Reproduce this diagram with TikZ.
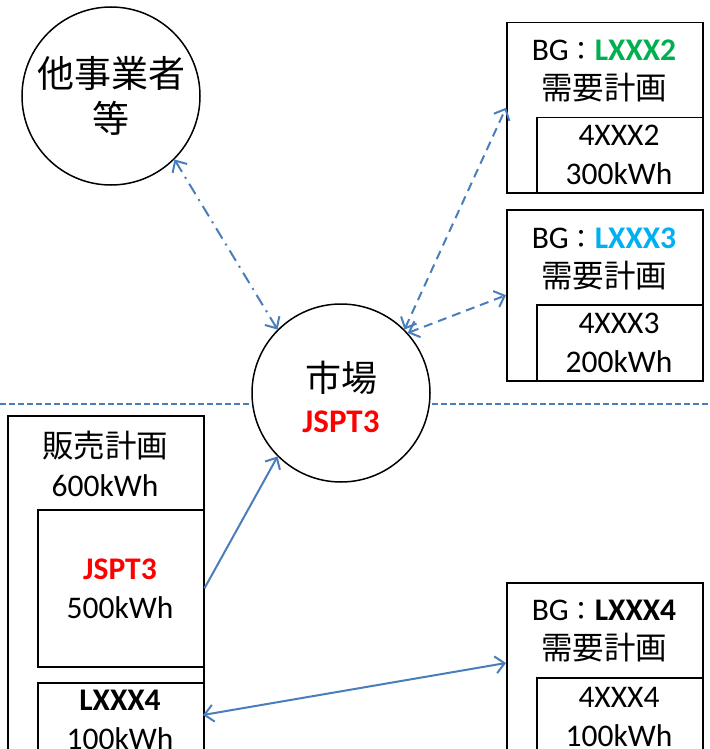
\documentclass[tikz,border=0pt]{standalone}
\usepackage{fontspec}
\setmainfont{Carlito}
\newfontfamily\cjk{Noto Sans CJK JP}
\usetikzlibrary{arrows.meta}
\definecolor{lnblue}{HTML}{4A7EBB}
\definecolor{gr}{HTML}{00B050}
\definecolor{cy}{HTML}{00B0F0}
\definecolor{rd}{HTML}{FF0000}
\newcommand{\bgcolon}{BG{\fontsize{26}{39}\selectfont\cjk ：}}
\tikzset{
  box/.style={draw=black, line width=1.5pt, fill=white, rectangle, inner sep=0pt, anchor=north west},
  ring/.style={draw=black, line width=1.5pt, fill=white, circle, inner sep=0pt, minimum size=178pt},
  txt/.style={align=center, inner sep=0pt, font=\fontsize{31.5}{39}\selectfont},
  bigtxt/.style={align=center, inner sep=0pt, font=\fontsize{37}{45}\selectfont},
  conn/.style={draw=lnblue, line width=2pt},
  barb/.tip={Straight Barb[length=9pt,width=17pt]},
}
\begin{document}
\begin{tikzpicture}[x=1pt,y=-1pt]
\clip (0,0) rectangle (709,749);
\fill[white] (0,0) rectangle (709,749);
% horizontal separator
\coordinate (sepL) at (0,404);
\coordinate (sepR) at (709,404);
\draw[lnblue, line width=1.2pt, dash pattern=on 6pt off 3pt] (sepL) -- (sepR);

% circles
\node[ring] (other) at (111,96) {};
\node[bigtxt] (othert) at (111,96) {\cjk 他事業者\\\cjk 等};
\node[ring] (market) at (341,393) {};
\node[txt, font=\fontsize{33}{41}\selectfont] (markett) at (341,397) {{\fontsize{36}{41}\selectfont\cjk 市場}\\\textcolor{rd}{\bfseries JSPT3}};

% BG LXXX2
\node[box, minimum width=196pt, minimum height=170pt] (bg2) at (506,22) {};
\node[box, minimum width=166pt, minimum height=75pt] (bg2in) at (536,117) {};
\node[txt] (bg2t) at (604,71) {\bgcolon\textcolor{gr}{\bfseries LXXX2}\\{\cjk 需要計画}};
\node[txt] (bg2it) at (619,155) {4XXX2\\300kWh};

% BG LXXX3
\node[box, minimum width=196pt, minimum height=171pt] (bg3) at (506,209) {};
\node[box, minimum width=166pt, minimum height=76pt] (bg3in) at (536,304) {};
\node[txt] (bg3t) at (604,259) {\bgcolon\textcolor{cy}{\bfseries LXXX3}\\{\cjk 需要計画}};
\node[txt] (bg3it) at (619,343) {4XXX3\\200kWh};

% BG LXXX4
\node[box, minimum width=196pt, minimum height=190pt] (bg4) at (506,582) {};
\node[box, minimum width=166pt, minimum height=100pt] (bg4in) at (536,677) {};
\node[txt] (bg4t) at (604,631) {\bgcolon{\bfseries LXXX4}\\{\cjk 需要計画}};
\node[txt] (bg4it) at (619,717) {4XXX4\\100kWh};

% sales plan
\node[box, minimum width=196pt, minimum height=360pt] (sales) at (7,415) {};
\node[txt] (salest) at (105,464) {{\cjk 販売計画}\\600kWh};
\node[box, minimum width=166pt, minimum height=157pt] (jspt) at (37,509) {};
\node[txt] (jsptt) at (120,589) {\textcolor{rd}{\bfseries JSPT3}\\500kWh};
\node[box, minimum width=166pt, minimum height=100pt] (lx4) at (37,682) {};
\node[txt] (lx4t) at (120,720) {{\bfseries LXXX4}\\100kWh};

% connectors
\draw[conn, barb-barb, dash pattern=on 12pt off 6pt on 2pt off 6pt] (other.-45) -- (market.135);
\draw[conn, barb-barb, dash pattern=on 9pt off 6pt] (market.45) -- (bg2.west);
\draw[conn, barb-barb, dash pattern=on 9pt off 6pt] (market.42) -- (bg3.west);
\draw[conn, -barb] (jspt.east) -- (market.-135);
\coordinate (bg4w) at (506,663);
\coordinate (lx4e) at (203,715);
\draw[conn, barb-barb] (lx4e) -- (bg4w);
\end{tikzpicture}
\end{document}
